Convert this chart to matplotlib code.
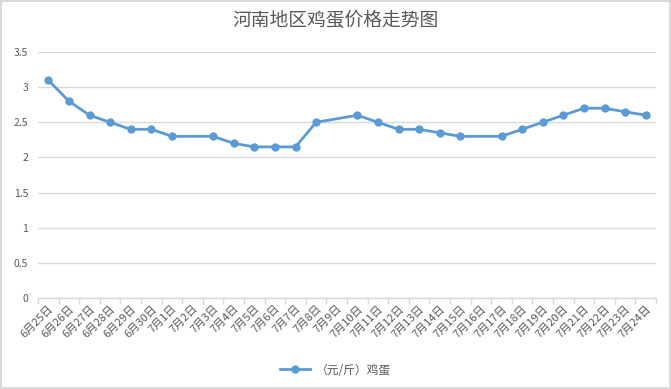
import matplotlib.pyplot as plt
import numpy as np

plt.rcParams['font.family'] = ['Noto Sans CJK SC', 'DejaVu Sans']

# dates on the category axis
dates = ['6月25日', '6月26日', '6月27日', '6月28日', '6月29日', '6月30日'] + \
        ['7月%d日' % d for d in range(1, 25)]

# egg price (yuan/jin); None = no quote that day (Excel connects over the gap)
price = [3.1, 2.8, 2.6, 2.5, 2.4, 2.4,
         2.3, None, 2.3, 2.2, 2.15, 2.15, 2.15, 2.5, None, 2.6,
         2.5, 2.4, 2.4, 2.35, 2.3, None, 2.3, 2.4, 2.5, 2.6,
         2.7, 2.7, 2.65, 2.6]

series_name = '（元/斤）鸡蛋'
title = '河南地区鸡蛋价格走势图'

blue = '#5B9BD5'
grey_txt = '#595959'
grid_c = '#D9D9D9'

fig = plt.figure(figsize=(6.71, 3.89), dpi=100, edgecolor=grid_c, linewidth=1.5)
ax = fig.add_axes([38 / 671, 1 - 298 / 389, 618 / 671, 246 / 389])

x = np.arange(len(dates))
xs = [i for i, v in zip(x, price) if v is not None]
ys = [v for v in price if v is not None]
ax.plot(xs, ys, color=blue, linewidth=2.0, marker='o', markersize=5, label=series_name,
        zorder=3)

ax.set_xlim(-0.5, len(dates) - 0.5)
ax.set_ylim(0, 3.5)
ax.set_yticks(np.arange(0, 3.51, 0.5))
ax.set_yticklabels(['0', '0.5', '1', '1.5', '2', '2.5', '3', '3.5'])
ax.yaxis.grid(True, color=grid_c, linewidth=1)
ax.set_axisbelow(True)

for s in ['left', 'right', 'top']:
    ax.spines[s].set_visible(False)
ax.spines['bottom'].set_color(grid_c)
ax.spines['bottom'].set_linewidth(1)

ax.tick_params(axis='y', length=0, labelsize=7.5, labelcolor=grey_txt, pad=7)
# tick marks at category boundaries, labels at centers
ax.set_xticks(np.arange(-0.5, len(dates), 1.0))
ax.set_xticklabels([])
ax.tick_params(axis='x', which='major', length=4, color=grid_c, width=1)
ax.set_xticks(x, minor=True)
ax.set_xticklabels(dates, minor=True, rotation=45, ha='right', va='top',
                   rotation_mode='anchor')
ax.tick_params(axis='x', which='minor', length=0, labelsize=8, labelcolor=grey_txt, pad=4)

fig.text(0.5, 1 - 20 / 389, title, ha='center', va='center', fontsize=13.5, color=grey_txt)

fig.legend(loc='center', bbox_to_anchor=(0.5, 1 - 370 / 389), frameon=False,
           fontsize=8.5, labelcolor=grey_txt, handlelength=2.5, handletextpad=0.5)

fig.savefig('out.png', dpi=100, edgecolor=fig.get_edgecolor())
